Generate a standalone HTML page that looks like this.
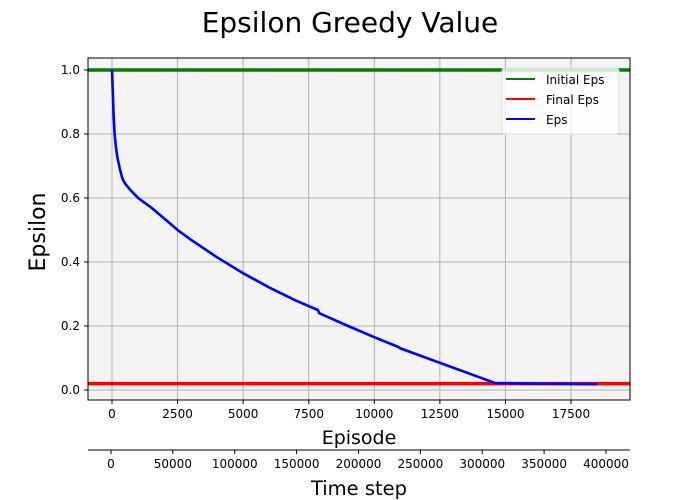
<!DOCTYPE html>
<html><head><meta charset="utf-8"><style>
html,body{margin:0;padding:0;background:#fff}
svg{display:block;font-family:"DejaVu Sans","Liberation Sans",sans-serif}
</style></head><body>
<svg id="chart" width="700" height="500" viewBox="0 0 700 500">
<rect width="700" height="500" fill="#fff"/>
<text x="350" y="32" font-size="28" text-anchor="middle">Epsilon Greedy Value</text>
<rect x="88" y="58" width="542" height="342" fill="#f4f4f4"/>
<g id="grid"></g>
<g id="series"></g>
<rect x="88" y="58" width="542" height="342" fill="none" stroke="#000" stroke-width="1"/>
<g id="axes"></g>
<text x="359" y="444" font-size="19" text-anchor="middle">Episode</text>
<text x="359" y="495" font-size="19.5" text-anchor="middle">Time step</text>
<text transform="translate(45,232) rotate(-90)" font-size="22" text-anchor="middle">Epsilon</text>
<g>
<rect x="502" y="68" width="117" height="66" rx="3" fill="#fff" fill-opacity="0.8" stroke="#ddd"/>
<line x1="506" y1="79" x2="535" y2="79" stroke="green" stroke-width="2"/>
<text x="546" y="84" font-size="12">Initial Eps</text>
<line x1="506" y1="99" x2="535" y2="99" stroke="red" stroke-width="2"/>
<text x="546" y="104" font-size="12">Final Eps</text>
<line x1="506" y1="119" x2="535" y2="119" stroke="blue" stroke-width="2"/>
<text x="546" y="124" font-size="12">Eps</text>
</g>
</svg>
<script>
const episodes=[0,30,60,100,150,200,300,400,500,700,1000,1500,2000,2500,3000,4000,5000,6000,7000,7850,7900,9000,10000,10900,11000,12000,13000,14000,14600,16000,18500];
const epsValues=[1.0,0.93,0.86,0.8,0.76,0.73,0.69,0.66,0.645,0.625,0.6,0.57,0.535,0.5,0.47,0.415,0.365,0.32,0.28,0.25,0.24,0.2,0.165,0.135,0.13,0.1,0.07,0.04,0.022,0.02,0.018];
const initialEps=[1.0];
const finalEps=[0.02];
const xTicks=[0,2500,5000,7500,10000,12500,15000,17500];
const yTicks=[0.0,0.2,0.4,0.6,0.8,1.0];
const yTickLabels=["0.0","0.2","0.4","0.6","0.8","1.0"];
const stepTicks=[0,50000,100000,150000,200000,250000,300000,350000,400000];

const X=v=>112+(v/17500)*459;
const Y=v=>390-v*320;
const S=v=>111+(v/400000)*495;
const NS="http://www.w3.org/2000/svg";
function mk(tag,attrs,parent,txt){const e=document.createElementNS(NS,tag);for(const k in attrs)e.setAttribute(k,attrs[k]);if(txt!=null)e.textContent=txt;document.getElementById(parent).appendChild(e);return e;}

xTicks.forEach(t=>{
 const g=mk('line',{x1:X(t),x2:X(t),y1:58,y2:400,stroke:'#b0b0b0','stroke-width':1},'grid');
 
 
 const k=mk('line',{x1:X(t),x2:X(t),y1:400,y2:404,stroke:'#000'},'axes');
 
 
 const l=mk('text',{x:X(t),y:418,'font-size':12,'text-anchor':'middle'},'axes',String(t));
 
 
});
yTicks.forEach((t,i)=>{
 const g=mk('line',{x1:88,x2:630,y1:Y(t),y2:Y(t),stroke:'#b0b0b0','stroke-width':1},'grid');
 
 
 const k=mk('line',{x1:84,x2:88,y1:Y(t),y2:Y(t),stroke:'#000'},'axes');
 
 
 const l=mk('text',{x:80,y:Y(t)+4,'font-size':12,'text-anchor':'end'},'axes',yTickLabels[i]);
 
 
});
const ax2=mk('line',{x1:88,x2:630,y1:450,y2:450,stroke:'#000'},'axes');


stepTicks.forEach(t=>{
 const k=mk('line',{x1:S(t),x2:S(t),y1:450,y2:454,stroke:'#000'},'axes');
 
 
 const l=mk('text',{x:S(t),y:468,'font-size':12,'text-anchor':'middle'},'axes',String(t));
 
 
});
const gi=mk('line',{x1:88,x2:630,y1:Y(initialEps[0]),y2:Y(initialEps[0]),stroke:'green','stroke-width':3.5},'series');


const fi=mk('line',{x1:88,x2:630,y1:Y(finalEps[0]),y2:Y(finalEps[0]),stroke:'red','stroke-width':3.5},'series');


const pts=episodes.map((e,i)=>X(e).toFixed(1)+','+Y(epsValues[i]).toFixed(1)).join(' ');
const ep=mk('polyline',{points:pts,fill:'none',stroke:'blue','stroke-width':2.6},'series');


</script>
</body></html>
